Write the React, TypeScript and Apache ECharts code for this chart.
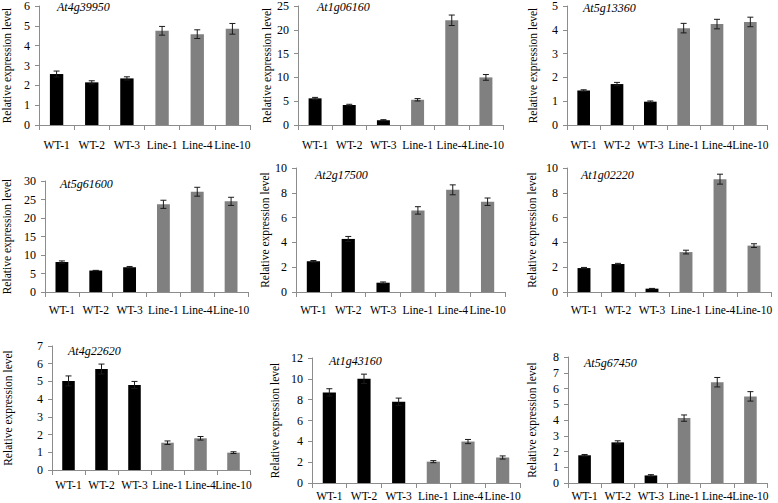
import { useEffect, useRef } from 'react'
import * as echarts from 'echarts'

const categories = ['WT-1', 'WT-2', 'WT-3', 'Line-1', 'Line-4', 'Line-10']
const genes = ['At4g39950', 'At1g06160', 'At5g13360', 'At5g61600', 'At2g17500', 'At1g02220', 'At4g22620', 'At1g43160', 'At5g67450']

// mean expression per gene (order follows categories)
const at4g39950 = [2.57, 2.15, 2.35, 4.75, 4.58, 4.85]
const at1g06160 = [5.6, 4.2, 1.0, 5.3, 22.0, 10.0]
const at5g13360 = [1.45, 1.72, 0.98, 4.07, 4.24, 4.33]
const at5g61600 = [8.1, 5.8, 6.7, 23.7, 27.1, 24.5]
const at2g17500 = [2.48, 4.28, 0.75, 6.58, 8.24, 7.28]
const at1g02220 = [1.93, 2.26, 0.27, 3.22, 9.1, 3.74]
const at4g22620 = [5.03, 5.7, 4.8, 1.54, 1.79, 0.98]
const at1g43160 = [8.7, 10.0, 7.8, 2.05, 3.98, 2.45]
const at5g67450 = [1.76, 2.58, 0.48, 4.12, 6.4, 5.5]

// standard error bars
const at4g39950Err = [0.15, 0.08, 0.08, 0.22, 0.22, 0.27]
const at1g06160Err = [0.2, 0.15, 0.12, 0.25, 1.1, 0.6]
const at5g13360Err = [0.03, 0.07, 0.03, 0.2, 0.2, 0.2]
const at5g61600Err = [0.3, 0.05, 0.2, 1.1, 1.2, 1.1]
const at2g17500Err = [0.06, 0.2, 0.06, 0.3, 0.4, 0.3]
const at1g02220Err = [0.05, 0.05, 0.02, 0.15, 0.4, 0.15]
const at4g22620Err = [0.28, 0.28, 0.2, 0.1, 0.1, 0.05]
const at1g43160Err = [0.35, 0.45, 0.35, 0.1, 0.2, 0.15]
const at5g67450Err = [0.05, 0.1, 0.05, 0.2, 0.3, 0.3]

const yMax = [6, 25, 5, 30, 10, 10, 7, 12, 8]
const yStep = [1, 5, 1, 5, 2, 2, 1, 2, 1]

const means = [at4g39950, at1g06160, at5g13360, at5g61600, at2g17500, at1g02220, at4g22620, at1g43160, at5g67450]
const errors = [at4g39950Err, at1g06160Err, at5g13360Err, at5g61600Err, at2g17500Err, at1g02220Err, at4g22620Err, at1g43160Err, at5g67450Err]

// layout: grid left, top, width, height, y-name gap, x-label margin, gene label x, y
const layout = [
  { l: 39, t: 3, w: 211, h: 122, gap: 26, lm: 14, tx: 57, ty: 1 },
  { l: 298, t: 3, w: 205, h: 122, gap: 24, lm: 14, tx: 317, ty: 1 },
  { l: 567, t: 2, w: 200, h: 123, gap: 28, lm: 14, tx: 583, ty: 2 },
  { l: 44, t: 181, w: 204, h: 111, gap: 32, lm: 12, tx: 60, ty: 178 },
  { l: 296, t: 168, w: 209, h: 124, gap: 25, lm: 12, tx: 315, ty: 169 },
  { l: 567, t: 168, w: 204, h: 124, gap: 29, lm: 12, tx: 581, ty: 169 },
  { l: 52, t: 346, w: 198, h: 124, gap: 38, lm: 9, tx: 68, ty: 345 },
  { l: 312, t: 358, w: 208, h: 125, gap: 31, lm: 7, tx: 329, ty: 355 },
  { l: 568, t: 357, w: 199, h: 126, gap: 30, lm: 7, tx: 584, ty: 357 },
]

const FONT = "'Liberation Serif', 'Times New Roman', serif"

export default function App() {
  const ref = useRef<HTMLDivElement>(null)

  useEffect(() => {
    if (!ref.current) return
    const chart = echarts.init(ref.current, undefined, { renderer: 'svg' })

    const series: any[] = []
    means.forEach((vals, i) => {
      series.push({
        type: 'bar',
        xAxisIndex: i,
        yAxisIndex: i,
        barWidth: '38%',
        data: vals.map((v, j) => ({
          value: v,
          itemStyle: { color: j < 3 ? '#000000' : '#808080' },
        })),
      })
      series.push({
        type: 'custom',
        xAxisIndex: i,
        yAxisIndex: i,
        z: 5,
        data: vals.map((v, j) => [j, v, errors[i][j]]),
        encode: { x: 0, y: 1 },
        renderItem: (_p: any, api: any) => {
          const x = api.value(0)
          const v = api.value(1)
          const e = api.value(2)
          const top = api.coord([x, v + e])
          const bot = api.coord([x, Math.max(0, v - e)])
          const style = { stroke: '#1a1a1a', lineWidth: 1 }
          return {
            type: 'group',
            children: [
              { type: 'line', shape: { x1: top[0], y1: top[1], x2: top[0], y2: bot[1] }, style },
              { type: 'line', shape: { x1: top[0] - 3, y1: top[1], x2: top[0] + 3, y2: top[1] }, style },
              { type: 'line', shape: { x1: top[0] - 3, y1: bot[1], x2: top[0] + 3, y2: bot[1] }, style },
            ],
          }
        },
      })
    })

    chart.setOption({
      animation: false,
      backgroundColor: '#ffffff',
      title: genes.map((g, i) => ({
        text: g,
        left: layout[i].tx,
        top: layout[i].ty,
        padding: 0,
        textStyle: { fontFamily: FONT, fontStyle: 'italic', fontWeight: 'normal', fontSize: 12, color: '#000' },
      })),
      grid: layout.map((p) => ({ left: p.l, top: p.t, width: p.w, height: p.h, containLabel: false })),
      xAxis: layout.map((p, i) => ({
        type: 'category',
        gridIndex: i,
        data: categories,
        axisLine: { lineStyle: { color: '#8c8c8c', width: 1 } },
        axisTick: { show: true, length: 5, lineStyle: { color: '#8c8c8c' } },
        axisLabel: { fontFamily: FONT, fontSize: 11.5, color: '#000', margin: p.lm, interval: 0 },
      })),
      yAxis: layout.map((p, i) => ({
        type: 'value',
        gridIndex: i,
        min: 0,
        max: yMax[i],
        interval: yStep[i],
        name: 'Relative expression level',
        nameLocation: 'middle',
        nameGap: p.gap,
        nameTextStyle: { fontFamily: FONT, fontSize: 11.5, color: '#000' },
        splitLine: { show: false },
        axisLine: { show: true, lineStyle: { color: '#8c8c8c', width: 1 } },
        axisTick: { show: true, length: 4, lineStyle: { color: '#8c8c8c' } },
        axisLabel: { fontFamily: FONT, fontSize: 12, color: '#000', margin: 9 },
      })),
      series,
    })

    return () => {
      chart.dispose()
    }
  }, [])

  return <div ref={ref} style={{ position: 'fixed', left: 0, top: 0, width: 778, height: 503, background: '#fff' }} />
}
